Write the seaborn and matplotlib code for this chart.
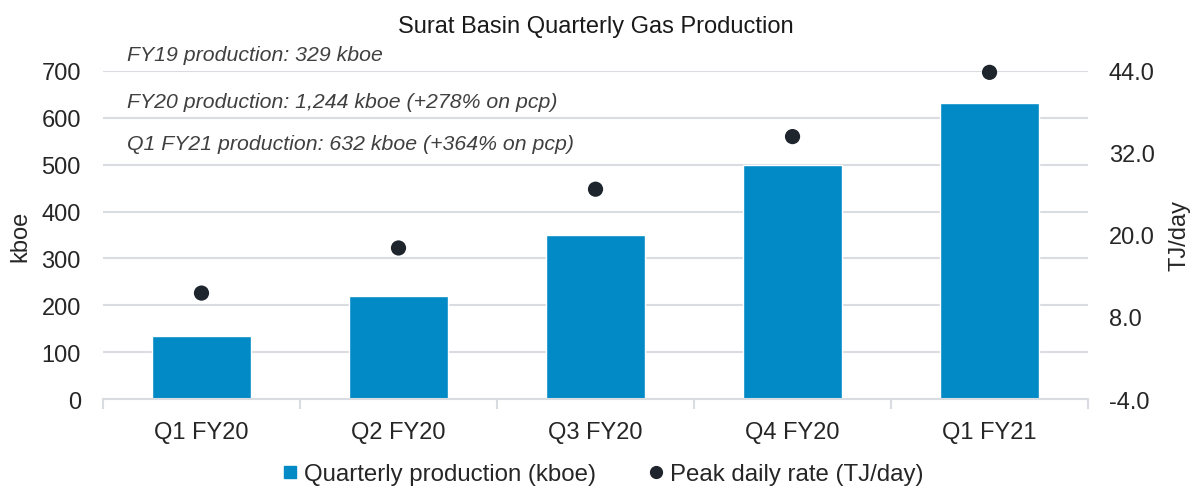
import pandas as pd
import seaborn as sns
import matplotlib.pyplot as plt
from matplotlib.lines import Line2D
from matplotlib.ticker import FixedLocator, FormatStrFormatter

# Data

quarters = ['Q1 FY20', 'Q2 FY20', 'Q3 FY20', 'Q4 FY20', 'Q1 FY21']
production_kboe = [134, 220, 350, 500, 632]
peak_tj_day = [11.5, 18.1, 26.7, 34.4, 43.8]
notes = ['FY19 production: 329 kboe',
         'FY20 production: 1,244 kboe (+278% on pcp)',
         'Q1 FY21 production: 632 kboe (+364% on pcp)']

data = pd.DataFrame({'quarter': quarters,
                     'kboe': production_kboe,
                     'tj': peak_tj_day})

bar_blue = '#028ac7'
dot_dark = '#1e252d'
grid_grey = '#d9dde2'

sns.set_style('white')
plt.rcParams['font.family'] = ['Liberation Sans', 'DejaVu Sans']

fig = plt.figure(figsize=(11.92, 4.89), dpi=100)
ax = fig.add_axes([0.0864, 0.182, 0.8264, 0.6708])

sns.barplot(data=data, x='quarter', y='kboe', color=bar_blue,
            saturation=1, width=0.5, ax=ax, zorder=2)
ax.set_xlim(-0.5, 4.5)
ax.set_ylim(0, 700)
ax.set_yticks(range(0, 701, 100))
ax.yaxis.grid(True, color=grid_grey, linewidth=1.5, zorder=0)
ax.set_axisbelow(True)
ax.set_xlabel('')
ax.set_ylabel('kboe', fontsize=17, labelpad=7)
ax.tick_params(axis='y', length=0, pad=16, labelsize=17)
ax.tick_params(axis='x', which='major', length=0, pad=16, labelsize=17)
ax.xaxis.set_minor_locator(FixedLocator([i - 0.5 for i in range(len(quarters) + 1)]))
ax.tick_params(axis='x', which='minor', bottom=True, direction='out',
               length=7, width=1.5, color=grid_grey)
for side in ['left', 'right', 'top']:
    ax.spines[side].set_visible(False)
ax.spines['bottom'].set_color(grid_grey)
ax.spines['bottom'].set_linewidth(1.5)

# Peak daily rate on the secondary axis
ax2 = ax.twinx()
sns.scatterplot(data=data, x='quarter', y='tj', color=dot_dark, s=120,
                edgecolor='none', legend=False, ax=ax2, clip_on=False, zorder=3)
ax2.set_ylim(-4, 44)
ax2.set_yticks([-4, 8, 20, 32, 44])
ax2.yaxis.set_major_formatter(FormatStrFormatter('%.1f'))
ax2.tick_params(axis='y', length=0, pad=15, labelsize=17)
ax2.set_ylabel('TJ/day', fontsize=17, labelpad=10)
for side in ['left', 'right', 'top', 'bottom']:
    ax2.spines[side].set_visible(False)
ax2.set_xlim(-0.5, 4.5)

fig.text(0.5, 0.945, 'Surat Basin Quarterly Gas Production',
         ha='center', va='center', fontsize=17, color='#1a1a1a')

for y, note in zip([0.8875, 0.7914, 0.7035], notes):
    fig.text(0.1065, y, note, ha='left', va='center', fontsize=15.3,
             style='italic', color='#404040')

handles = [Line2D([], [], marker='s', linestyle='none', color=bar_blue, markersize=9),
           Line2D([], [], marker='o', linestyle='none', color=dot_dark, markersize=8.5)]
fig.legend(handles, ['Quarterly production (kboe)', 'Peak daily rate (TJ/day)'],
           loc='lower center', bbox_to_anchor=(0.505, -0.038), ncol=2, frameon=False,
           fontsize=17.3, handletextpad=0.2, columnspacing=2.1, handlelength=0.8)

fig.savefig('out.png', dpi=100)
